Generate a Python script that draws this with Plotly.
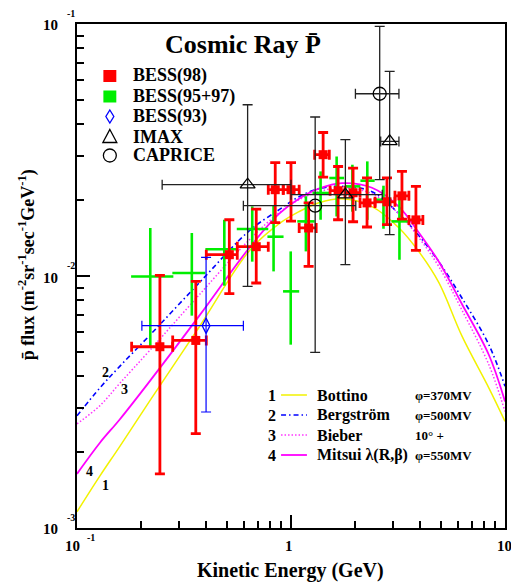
import plotly.graph_objects as go

# ---------------- data ----------------
# BESS(98)
b98_E   = [0.244, 0.359, 0.515, 0.688, 0.844, 1.00, 1.209, 1.413, 1.660, 1.950, 2.266, 2.809, 3.300, 3.835]
b98_Elo = [0.180, 0.280, 0.402, 0.561, 0.783, 0.920, 1.092, 1.290, 1.523, 1.789, 2.102, 2.470, 3.061, 3.556]
b98_Ehi = [0.280, 0.402, 0.561, 0.783, 0.920, 1.092, 1.311, 1.510, 1.789, 2.102, 2.470, 3.061, 3.556, 4.133]
b98_F   = [5.24e-3, 5.55e-3, 1.215e-2, 1.307e-2, 2.20e-2, 2.20e-2, 1.551e-2, 3.03e-2, 2.18e-2, 2.14e-2, 1.95e-2, 1.97e-2, 2.08e-2, 1.67e-2]
b98_Flo = [1.64e-3, 2.37e-3, 8.51e-3, 9.38e-3, 1.63e-2, 1.65e-2, 1.092e-2, 2.47e-2, 1.672e-2, 1.642e-2, 1.565e-2, 1.598e-2, 1.683e-2, 1.264e-2]
b98_Fhi = [1.006e-2, 9.52e-3, 1.672e-2, 1.844e-2, 2.82e-2, 2.82e-2, 1.949e-2, 3.71e-2, 2.72e-2, 2.68e-2, 2.45e-2, 2.45e-2, 2.60e-2, 2.27e-2]

# BESS(95+97)
b95_E   = [0.220, 0.344, 0.488, 0.659, 0.829, 0.997, 1.174, 1.375, 1.634, 1.936, 2.273, 2.705, 3.212]
b95_Elo = [0.179, 0.279, 0.398, 0.558, 0.776, 0.918, 1.070, 1.260, 1.510, 1.800, 2.110, 2.490, 2.950]
b95_Ehi = [0.282, 0.398, 0.563, 0.783, 0.923, 1.092, 1.290, 1.510, 1.770, 2.110, 2.460, 2.940, 3.556]
b95_F   = [9.96e-3, 1.028e-2, 1.277e-2, 1.537e-2, 1.432e-2, 8.69e-3, 1.647e-2, 2.135e-2, 2.448e-2, 2.268e-2, 2.389e-2, 2.008e-2, 1.647e-2]
b95_Flo = [5.26e-3, 6.96e-3, 9.15e-3, 1.14e-2, 1.043e-2, 5.34e-3, 1.252e-2, 1.672e-2, 1.723e-2, 1.80e-2, 1.67e-2, 1.54e-2, 1.16e-2]
b95_Fhi = [1.551e-2, 1.481e-2, 1.672e-2, 1.889e-2, 1.906e-2, 1.252e-2, 2.073e-2, 2.601e-2, 2.98e-2, 2.764e-2, 2.85e-2, 2.282e-2, 2.045e-2]

# BESS(93)
b93_E, b93_Elo, b93_Ehi = [0.401], [0.201], [0.599]
b93_F, b93_Flo, b93_Fhi = [6.35e-3], [2.886e-3], [1.185e-2]

# IMAX
imax_E   = [0.627, 1.795, 2.891]
imax_Elo = [0.250, 1.000, 2.625]
imax_Ehi = [1.000, 2.670, 3.194]
imax_F   = [2.303e-2, 2.102e-2, 3.421e-2]
imax_Flo = [9.09e-3, 1.109e-2, 1.459e-2]
imax_Fhi = [4.782e-2, 3.474e-2, 6.483e-2]

# CAPRICE
cap_E   = [1.297, 2.597]
cap_Elo = [0.599, 2.000]
cap_Ehi = [2.008, 3.194]
cap_F   = [1.901e-2, 5.288e-2]
cap_Flo = [4.974e-3, 2.411e-2]
cap_Fhi = [4.276e-2, 9.78e-2]

# theoretical curves
curve_E   = [0.10, 0.128, 0.158, 0.218, 0.373, 0.639, 0.881, 1.09, 1.35, 1.73, 2.39, 3.19, 3.96, 4.91, 6.28, 8.40, 10.0]
bottino   = [0.00116, 0.00161, 0.00210, 0.00318, 0.00629, 0.01260, 0.01613, 0.01800, 0.01954, 0.02026, 0.01884, 0.01555, 0.01249, 0.00941, 0.00580, 0.00360, 0.00265]
bergstrom = [0.00279, 0.00360, 0.00437, 0.00580, 0.00941, 0.01513, 0.01833, 0.02064, 0.02220, 0.02271, 0.02160, 0.01767, 0.01445, 0.01139, 0.00820, 0.00534, 0.00365]
bieber    = [0.00259, 0.00306, 0.00374, 0.00505, 0.00843, 0.01393, 0.01784, 0.02008, 0.02160, 0.02240, 0.02121, 0.01767, 0.01419, 0.01089, 0.00735, 0.00445, 0.00290]
mitsui    = [0.00164, 0.00218, 0.00269, 0.00381, 0.00696, 0.01295, 0.01767, 0.02026, 0.02220, 0.02335, 0.02240, 0.01884, 0.01485, 0.01139, 0.00776, 0.00487, 0.00318]

data_names   = ["BESS(98)", "BESS(95+97)", "BESS(93)", "IMAX", "CAPRICE"]
model_nums   = ["1", "2", "3", "4"]
model_names  = ["Bottino", "Bergström", "Bieber", "Mitsui λ(R,β)"]
model_params = ["φ=370MV", "φ=500MV", "10° +", "φ=550MV"]
x_tick_text  = ["10", "1", "10"]
y_tick_text  = ["10", "10", "10"]
y_tick_sup   = ["-1", "-2", "-3"]

# ---------------- figure ----------------
# The page body has an 8px margin, so the figure is made 8px smaller and
# all layout positions below are given in browser-window pixels.
OFF = 8
WIN_W, WIN_H = 519, 582
PL, PR, PT, PB = 77, 507, 24, 528          # plot area in window pixels
W, H = WIN_W - OFF, WIN_H - OFF
ML, MT = PL - OFF, PT - OFF
MR, MB = W - (PR - OFF), H - (PB - OFF)
PW, PH = PR - PL, PB - PT
FONT = "Liberation Serif"


def fx(p):
    return (p - PL) / PW


def fy(p):
    return (PB - p) / PH


def minus(v, lo):
    return [a - b for a, b in zip(v, lo)]


def plus(v, hi):
    return [b - a for a, b in zip(v, hi)]


fig = go.Figure()

curve_styles = [
    (bottino, dict(color="#f2f200", width=1.5, dash="solid")),
    (bergstrom, dict(color="#0000ff", width=1.6, dash="5px,3px,1.5px,3px")),
    (bieber, dict(color="#ff33ff", width=1.5, dash="1.5px,2px")),
    (mitsui, dict(color="#ff00ff", width=1.8, dash="solid")),
]
for (vals, ln), nm in zip(curve_styles, model_names):
    fig.add_trace(go.Scatter(x=curve_E, y=vals, mode="lines", name=nm, line=dict(shape="spline", **ln),
                             showlegend=False))

# BESS 95+97 (green crosses)
fig.add_trace(go.Scatter(
    x=b95_E, y=b95_F, mode="markers", name=data_names[1], showlegend=False,
    marker=dict(size=1, color="#00ee00"),
    error_x=dict(type="data", array=plus(b95_E, b95_Ehi), arrayminus=minus(b95_E, b95_Elo),
                 color="#00ee00", thickness=2.6, width=0),
    error_y=dict(type="data", array=plus(b95_F, b95_Fhi), arrayminus=minus(b95_F, b95_Flo),
                 color="#00ee00", thickness=2.6, width=0),
))

# BESS 98 (red squares)
fig.add_trace(go.Scatter(
    x=b98_E, y=b98_F, mode="markers", name=data_names[0], showlegend=False,
    marker=dict(symbol="square", size=9, color="#ff0000"),
    error_x=dict(type="data", array=plus(b98_E, b98_Ehi), arrayminus=minus(b98_E, b98_Elo),
                 color="#ff0000", thickness=2.8, width=5),
    error_y=dict(type="data", array=plus(b98_F, b98_Fhi), arrayminus=minus(b98_F, b98_Flo),
                 color="#ff0000", thickness=2.8, width=5),
))

# BESS 93 (blue open diamond)
fig.add_trace(go.Scatter(
    x=b93_E, y=b93_F, mode="markers", name=data_names[2], showlegend=False,
    marker=dict(symbol="diamond-tall-open", size=11, color="#0000ff", line=dict(width=1.3)),
    error_x=dict(type="data", array=plus(b93_E, b93_Ehi), arrayminus=minus(b93_E, b93_Elo),
                 color="#0000ff", thickness=1.2, width=5),
    error_y=dict(type="data", array=plus(b93_F, b93_Fhi), arrayminus=minus(b93_F, b93_Flo),
                 color="#0000ff", thickness=1.2, width=5),
))

# IMAX (open triangles)
fig.add_trace(go.Scatter(
    x=imax_E, y=imax_F, mode="markers", name=data_names[3], showlegend=False,
    marker=dict(symbol="triangle-up-open", size=13, color="#000000", line=dict(width=1.3)),
    error_x=dict(type="data", array=plus(imax_E, imax_Ehi), arrayminus=minus(imax_E, imax_Elo),
                 color="#222222", thickness=1.3, width=5),
    error_y=dict(type="data", array=plus(imax_F, imax_Fhi), arrayminus=minus(imax_F, imax_Flo),
                 color="#222222", thickness=1.3, width=5),
))

# CAPRICE (open circles)
fig.add_trace(go.Scatter(
    x=cap_E, y=cap_F, mode="markers", name=data_names[4], showlegend=False,
    marker=dict(symbol="circle-open", size=13, color="#000000", line=dict(width=1.3)),
    error_x=dict(type="data", array=plus(cap_E, cap_Ehi), arrayminus=minus(cap_E, cap_Elo),
                 color="#222222", thickness=1.3, width=5),
    error_y=dict(type="data", array=plus(cap_F, cap_Fhi), arrayminus=minus(cap_F, cap_Flo),
                 color="#222222", thickness=1.3, width=5),
))

ann = []
shapes = []


def text(x, y, s, size, xanchor="left", yanchor="middle", angle=0, color="black"):
    ann.append(dict(x=fx(x), y=fy(y), xref="paper", yref="paper", text=s, showarrow=False,
                    xanchor=xanchor, yanchor=yanchor, textangle=angle,
                    font=dict(family=FONT, size=size, color=color)))


# title
text(244, 45, "<b>Cosmic Ray P\u0304</b>", 26, xanchor="center")

# data legend (top-left)
rows = [76, 96.5, 116.5, 136.5, 155.5]
for r, nm in zip(rows, data_names):
    text(131, r, "<b>" + nm + "</b>", 18)
sx = 110
# red / green squares
for r, col in zip(rows[:2], ["#ff0000", "#00ee00"]):
    shapes.append(dict(type="rect", xref="paper", yref="paper", x0=fx(sx - 6.5), x1=fx(sx + 6.5),
                       y0=fy(r + 6), y1=fy(r - 6), fillcolor=col, line=dict(width=0)))
# diamond
r = rows[2]
shapes.append(dict(type="path", xref="paper", yref="paper",
                   path=f"M {fx(sx)} {fy(r - 6.5)} L {fx(sx + 4)} {fy(r)} L {fx(sx)} {fy(r + 6.5)} L {fx(sx - 4)} {fy(r)} Z",
                   line=dict(color="#0000ff", width=1.3)))
# triangle
r = rows[3]
shapes.append(dict(type="path", xref="paper", yref="paper",
                   path=f"M {fx(sx)} {fy(r - 7)} L {fx(sx + 7)} {fy(r + 6)} L {fx(sx - 7)} {fy(r + 6)} Z",
                   line=dict(color="black", width=1.3)))
# circle
r = rows[4]
shapes.append(dict(type="circle", xref="paper", yref="paper", x0=fx(sx - 6.5), x1=fx(sx + 6.5),
                   y0=fy(r + 6.5), y1=fy(r - 6.5), line=dict(color="black", width=1.3)))

# model legend (bottom-right)
mrows = [395, 415, 435, 455]
for r, num, nm, par, (vals, ln) in zip(mrows, model_nums, model_names, model_params, curve_styles):
    text(273, r, "<b>" + num + "</b>", 16, xanchor="center")
    shapes.append(dict(type="line", xref="paper", yref="paper", x0=fx(282), x1=fx(308), y0=fy(r), y1=fy(r),
                       line=dict(color=ln["color"], width=ln["width"], dash=ln["dash"])))
    text(316, r, "<b>" + nm + "</b>", 16)
    text(415, r, "<b>" + par + "</b>", 13)

# curve number labels
text(106, 372, "<b>2</b>", 14, xanchor="center")
text(125, 389, "<b>3</b>", 14, xanchor="center")
text(90, 471, "<b>4</b>", 14, xanchor="center")
text(106, 485, "<b>1</b>", 14, xanchor="center")

# y tick labels
for yp, t, s in zip([24.3, 276.7, 528], y_tick_text, y_tick_sup):
    text(60, yp + 1, "<b>" + t + "</b>", 15, xanchor="right")
    text(65, yp - 11, "<b>" + s + "</b>", 10)
# x tick labels
text(72.5, 546, "<b>" + x_tick_text[0] + "</b>", 15, xanchor="center")
text(85, 537, "<b>-1</b>", 10)
text(290, 546, "<b>" + x_tick_text[1] + "</b>", 15, xanchor="center")
text(506, 546, "<b>" + x_tick_text[2] + "</b>", 15, xanchor="center")

# axis titles
text(291, 570, "<b>Kinetic Energy (GeV)</b>", 20, xanchor="center")
text(27, 265, "<b>p\u0304 flux (m<sup>-2</sup>sr<sup>-1</sup>sec<sup>-1</sup>GeV<sup>-1</sup>)</b>", 18,
     xanchor="center", angle=-90)

axis_common = dict(type="log", showgrid=False, zeroline=False, showline=True, linecolor="black", linewidth=1.8,
                   mirror=True, ticks="inside", ticklen=13, tickwidth=1.5, tickcolor="black", dtick=1,
                   showticklabels=False,
                   minor=dict(ticks="inside", ticklen=7, tickwidth=1.5, tickcolor="black", dtick="D1",
                              showgrid=False))

fig.update_layout(
    width=W, height=H, margin=dict(l=ML, r=MR, t=MT, b=MB),
    plot_bgcolor="white", paper_bgcolor="white", showlegend=False,
    xaxis=dict(range=[-1, 1], **axis_common),
    yaxis=dict(range=[-3, -1], **axis_common),
    annotations=ann, shapes=shapes,
)

fig.write_html("out.html")
